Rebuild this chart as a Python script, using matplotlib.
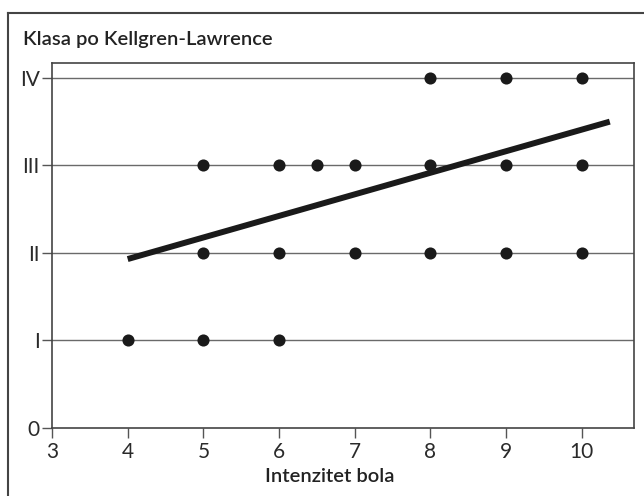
import matplotlib
matplotlib.use("Agg")
import matplotlib.pyplot as plt
from matplotlib.lines import Line2D

# Data
x_iv = [8, 9, 10]
x_iii = [5, 6, 6.5, 7, 8, 9, 10]
x_ii = [5, 6, 7, 8, 9, 10]
x_i = [4, 5, 6]
grades = [4, 3, 2, 1]
fit_x = [4.0, 10.37]
fit_y = [1.93, 3.50]
xticks = [3, 4, 5, 6, 7, 8, 9, 10]
yticks = [0, 1, 2, 3, 4]
ytick_labels = ["0", "I", "II", "III", "IV"]
title = "Klasa po Kellgren-Lawrence"
xlabel = "Intenzitet bola"

plt.rcParams['font.family'] = ['Lato', 'DejaVu Sans']

W, H = 644, 496
fig = plt.figure(figsize=(W / 100, H / 100), dpi=100)
ax = fig.add_axes([52 / W, 1 - 428 / H, (634 - 52) / W, (428 - 63) / H])

for yv in yticks[1:]:
    ax.axhline(yv, color="#6a6a6a", lw=1.0, zorder=1)

for xs, g in zip([x_iv, x_iii, x_ii, x_i], grades):
    ax.scatter(xs, [g] * len(xs), s=76, color="#1a1a1a", zorder=3, linewidths=0)

ax.plot(fit_x, fit_y, color="#1a1a1a", lw=4.3, solid_capstyle="butt", zorder=4)

ax.set_xlim(3, 10.69)
ax.set_ylim(0, 4.17)
ax.set_xticks(xticks)
ax.set_yticks(yticks)
ax.set_yticklabels(ytick_labels)
ax.tick_params(axis="both", direction="out", length=7, width=1, color="#555555",
               labelsize=15, labelcolor="#2a2a2a")
ax.tick_params(axis="x", pad=3)
ax.tick_params(axis="y", pad=2)
for s in ax.spines.values():
    s.set_color("#444444")
    s.set_linewidth(1.2)

fig.text(23 / W, 1 - 45 / H, title, fontsize=14.5, fontweight="semibold",
         color="#222222", ha="left", va="baseline")
fig.text(330 / W, 1 - 476 / H, xlabel, fontsize=14.5, fontweight="semibold",
         color="#222222", ha="center", va="center")

# outer frame (top and left only)
fig.add_artist(Line2D([8 / W, 1], [1 - 13 / H, 1 - 13 / H], transform=fig.transFigure,
                      color="#444444", lw=1.5))
fig.add_artist(Line2D([8 / W, 8 / W], [0, 1 - 13 / H], transform=fig.transFigure,
                      color="#444444", lw=1.5))

fig.savefig("out.png", dpi=100)
